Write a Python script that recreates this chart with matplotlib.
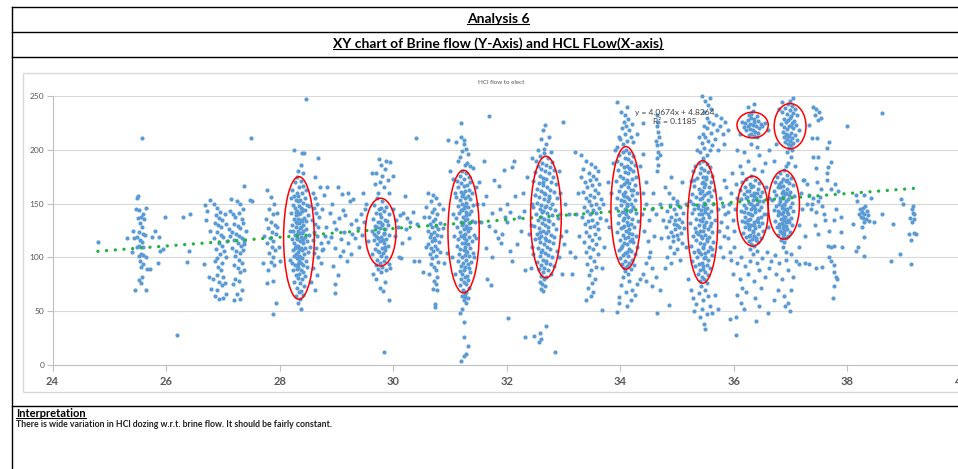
import matplotlib
matplotlib.use("Agg")
import matplotlib.pyplot as plt
from matplotlib.patches import Ellipse, Rectangle
from matplotlib.lines import Line2D

# ---- data (x, y pairs) ----
left_pts = [24.80,114, 25.50,157, 25.49,155, 25.47,145, 25.53,144, 25.65,146, 25.59,140, 25.56,138, 25.61,136,
            25.50,137, 25.54,132, 25.57,128, 25.52,124, 25.60,122, 25.63,121, 25.54,116, 25.57,114, 25.53,111,
            25.60,110, 25.49,110, 25.56,103, 25.52,101, 25.60,102, 25.65,100, 25.54,97, 25.59,94, 25.56,91,
            25.66,89, 25.71,89, 25.57,82, 25.53,79, 25.56,76, 25.46,70, 25.65,70, 25.43,118, 25.49,119, 25.40,105,
            25.31,118, 25.42,125, 25.75,119, 25.81,125, 25.88,119, 25.98,138, 25.85,95, 25.89,106, 25.95,108,
            26.30,138, 26.43,140, 26.37,96, 26.40,106, 26.19,28, 25.58,211]
c27_pts = [26.68,149, 26.72,143, 26.78,153, 26.85,150, 26.90,146, 26.95,142, 26.88,139, 26.93,137, 26.99,135,
           27.03,140, 26.86,132, 26.92,130, 26.97,128, 27.05,131, 26.90,124, 26.96,121, 27.00,119, 26.84,118,
           27.08,115, 26.93,113, 26.98,111, 26.88,108, 27.02,106, 26.95,103, 26.90,99, 26.86,97, 26.99,95,
           27.06,100, 26.92,91, 26.96,88, 26.89,84, 27.00,82, 26.83,80, 26.94,77, 26.98,74, 27.04,76, 26.90,70,
           26.87,64, 26.93,61, 27.00,62, 27.06,66, 26.80,71, 26.75,82, 26.67,94, 26.70,135, 26.77,125, 27.10,126,
           27.12,143,
           27.18,140, 27.22,138, 27.28,141, 27.33,136, 27.20,131, 27.26,129, 27.31,127, 27.36,132, 27.17,124,
           27.23,122, 27.29,120, 27.34,118, 27.20,116, 27.27,113, 27.32,111, 27.38,115, 27.16,109, 27.24,106,
           27.30,104, 27.35,107, 27.21,101, 27.28,98, 27.33,95, 27.19,93, 27.26,90, 27.31,86, 27.37,88, 27.22,80,
           27.29,78, 27.18,75, 27.34,70, 27.25,66, 27.30,61, 27.20,60, 27.36,145, 27.30,150, 27.25,152, 27.37,166,
           27.15,154, 27.12,120, 27.40,125, 27.48,153, 27.52,152, 27.49,211, 27.38,112]
c28_pts = [27.78,163, 27.85,156, 27.90,150, 27.82,145, 27.88,140, 27.76,136, 27.84,133, 27.91,130, 27.80,127,
           27.87,124, 27.93,122, 27.83,118, 27.89,115, 27.78,113, 27.86,110, 27.92,107, 27.81,104, 27.88,100,
           27.84,96, 27.90,93, 27.73,120, 27.80,88, 27.77,76, 27.88,78, 27.94,58, 27.88,47, 27.96,128, 27.99,110,
           28.00,97, 27.70,95, 27.95,141,
           28.31,175, 28.38,171, 28.27,170, 28.42,166, 28.35,165, 28.22,163, 28.46,163, 28.30,160, 28.39,160,
           28.33,157, 28.25,157, 28.44,155, 28.36,153, 28.29,153, 28.41,151, 28.48,149, 28.23,149, 28.34,148,
           28.38,146, 28.27,146, 28.45,144, 28.31,143, 28.40,143, 28.20,141, 28.36,141, 28.50,139, 28.28,139,
           28.43,137, 28.33,136, 28.25,136, 28.39,134, 28.47,134, 28.30,132, 28.35,132, 28.22,130, 28.42,130,
           28.37,128, 28.29,128, 28.46,126, 28.32,125, 28.24,125, 28.40,123, 28.34,123, 28.51,121, 28.27,121,
           28.38,119, 28.44,119, 28.21,117, 28.31,117, 28.36,115, 28.48,115, 28.26,113, 28.41,113, 28.33,111,
           28.29,111, 28.45,109, 28.37,109, 28.23,107, 28.39,107, 28.32,105, 28.50,105, 28.28,103, 28.43,103,
           28.35,101, 28.25,101, 28.40,99, 28.30,99, 28.46,97, 28.34,97, 28.22,95, 28.38,95, 28.42,93, 28.27,93,
           28.33,91, 28.48,91, 28.31,89, 28.37,88, 28.24,88, 28.41,86, 28.35,85, 28.29,84, 28.44,83, 28.32,81,
           28.39,80, 28.26,77, 28.36,76, 28.43,73, 28.30,72, 28.38,69, 28.34,68, 28.41,65, 28.28,64, 28.36,61,
           28.33,58, 28.38,52,
           28.26,200, 28.40,197, 28.43,197, 28.38,186, 28.46,247, 28.33,180, 28.41,178, 28.20,155, 28.52,148,
           28.18,125, 28.53,110, 28.19,98, 28.28,133, 28.36,127, 28.34,140, 28.31,122, 28.39,116, 28.35,108,
           28.30,118, 28.37,135, 28.33,94, 28.42,125, 28.27,109, 28.39,145, 28.32,152, 28.36,100, 28.29,142,
           28.41,117,
           28.58,160, 28.62,155, 28.66,150, 28.60,146, 28.64,141, 28.70,138, 28.57,135, 28.63,131, 28.68,128,
           28.61,124, 28.66,120, 28.59,116, 28.72,113, 28.64,109, 28.60,104, 28.68,100, 28.75,145, 28.71,165,
           28.78,158, 28.62,175, 28.67,192, 28.58,90, 28.65,84, 28.73,95, 28.56,77, 28.63,70, 28.76,108, 28.80,120]
c29_pts = [28.84,165, 29.03,165, 29.10,159, 29.21,160, 29.24,152, 29.30,154, 28.92,150, 29.11,144, 29.05,137,
           28.88,141, 29.16,139, 28.96,133, 29.26,131, 29.35,135, 29.43,140, 28.82,128, 29.00,126, 29.14,124,
           29.28,122, 29.38,127, 29.48,133, 28.90,119, 29.08,117, 29.20,113, 29.33,118, 29.45,121, 28.86,114,
           28.98,109, 29.12,106, 29.25,103, 29.40,110, 29.52,150, 28.74,107, 28.97,75, 28.98,67, 29.06,101,
           29.18,97, 29.55,115, 29.50,145, 29.46,160, 29.02,84, 28.94,92]
c30_pts = [29.72,155, 29.80,152, 29.66,149, 29.88,147, 29.75,145, 29.84,143, 29.70,141, 29.92,140, 29.78,138,
           29.64,136, 29.86,135, 29.73,133, 29.81,131, 29.90,130, 29.68,129, 29.77,127, 29.85,126, 29.62,125,
           29.74,124, 29.83,122, 29.93,121, 29.70,120, 29.79,119, 29.87,117, 29.66,116, 29.76,115, 29.84,113,
           29.72,112, 29.90,111, 29.80,109, 29.68,108, 29.86,107, 29.75,105, 29.82,104, 29.63,103, 29.78,101,
           29.88,100, 29.71,98, 29.84,97, 29.76,95, 29.92,94, 29.69,93, 29.81,91, 29.74,89, 29.87,88, 29.79,86,
           29.83,123, 29.77,133, 29.73,118, 29.89,134, 29.79,146, 29.71,128, 29.85,110, 29.76,140, 29.82,116,
           29.67,122, 29.80,130, 29.74,106,
           29.73,160, 29.83,165, 29.76,170, 29.90,172, 29.80,176, 29.70,178, 29.86,182, 29.78,186, 29.95,189,
           29.75,191, 29.88,190, 29.99,176, 29.62,178, 29.68,168, 29.92,160,
           29.70,80, 29.85,77, 29.76,72, 29.82,69, 29.93,60, 29.84,12, 29.65,85, 29.95,90,
           30.05,135, 30.12,139, 30.18,141, 30.25,137, 30.30,133, 30.08,128, 30.20,157, 30.40,211, 30.13,99,
           30.37,97, 30.45,97, 30.52,86, 30.03,120, 30.22,126, 30.15,113, 30.35,142, 30.28,118, 30.42,131,
           30.00,145, 30.10,100]
c31_pts = [30.62,160, 30.70,158, 30.76,155, 30.66,152, 30.80,150, 30.58,147, 30.72,145, 30.68,142, 30.78,140,
           30.63,138, 30.74,136, 30.70,134, 30.82,132, 30.65,131, 30.75,129, 30.69,128, 30.79,126, 30.61,125,
           30.72,124, 30.67,122, 30.77,121, 30.84,120, 30.64,119, 30.71,118, 30.74,116, 30.68,115, 30.80,114,
           30.62,112, 30.73,111, 30.66,109, 30.77,108, 30.70,106, 30.83,105, 30.64,103, 30.75,101, 30.69,99,
           30.79,96, 30.66,94, 30.72,91, 30.76,88, 30.63,85, 30.78,82, 30.71,78, 30.75,75, 30.70,71, 30.77,70,
           30.73,57, 30.74,54, 30.55,138, 30.87,127, 30.88,145, 30.58,110, 30.90,95, 30.95,104,
           31.22,180, 31.28,178, 31.17,176, 31.33,175, 31.25,173, 31.12,171, 31.36,170, 31.20,169, 31.30,167,
           31.24,166, 31.15,165, 31.34,163, 31.27,162, 31.19,161, 31.38,160, 31.23,159, 31.31,157, 31.10,156,
           31.26,155, 31.35,154, 31.18,153, 31.29,151, 31.22,150, 31.40,149, 31.14,148, 31.32,147, 31.25,146,
           31.20,144, 31.37,143, 31.28,142, 31.16,141, 31.33,140, 31.23,138, 31.11,137, 31.30,136, 31.26,135,
           31.39,134, 31.19,133, 31.34,132, 31.21,130, 31.28,129, 31.13,128, 31.36,127, 31.24,126, 31.31,125,
           31.17,124, 31.27,122, 31.42,121, 31.20,120, 31.33,119, 31.25,118, 31.15,117, 31.29,116, 31.38,115,
           31.22,113, 31.32,112, 31.12,111, 31.27,110, 31.35,109, 31.18,108, 31.24,107, 31.30,105, 31.41,104,
           31.16,103, 31.26,102, 31.34,101, 31.21,100, 31.29,98, 31.14,97, 31.37,96, 31.23,95, 31.31,94,
           31.19,92, 31.27,91, 31.33,90, 31.25,88, 31.17,87, 31.35,86, 31.22,85, 31.30,83, 31.26,82, 31.20,80,
           31.32,79, 31.24,77, 31.28,75, 31.18,74, 31.34,72, 31.23,70, 31.29,68, 31.26,66, 31.21,64, 31.31,62,
           31.25,60, 31.28,58, 31.22,52, 31.18,48, 31.24,40, 31.25,26, 31.32,18, 31.28,10, 31.25,8, 31.20,4,
           31.26,63,
           31.20,225, 31.20,212, 31.25,209, 31.10,207, 30.97,209, 31.28,201, 31.00,180, 31.18,193, 31.24,205,
           31.22,199, 31.30,188, 31.35,185, 31.40,183, 31.27,186, 31.15,190, 31.32,196, 31.05,173, 31.08,160,
           31.45,165, 31.47,150, 31.44,133, 31.46,118, 31.43,100, 31.05,140, 31.07,120, 31.04,100, 31.08,85,
           31.28,139, 31.24,121, 31.27,148, 31.21,157, 31.29,106, 31.23,132, 31.26,113, 31.22,144, 31.30,127]
c32_pts = [31.54,133, 31.63,157, 31.68,231, 31.68,129, 31.74,141, 31.77,172, 31.86,166, 31.95,181, 32.09,184,
           32.12,190, 32.15,157, 31.97,138, 32.05,142, 32.01,133, 31.92,122, 32.21,138, 32.30,143, 31.63,109,
           31.90,113, 32.06,106, 31.74,100, 32.09,97, 31.72,74, 32.03,44, 31.58,150, 31.80,125, 31.84,118,
           32.25,125, 32.35,175, 32.28,160, 31.60,190, 31.52,170, 32.18,112, 32.40,122, 31.88,145, 32.00,150,
           31.66,80, 32.33,88,
           32.33,26, 32.48,27, 32.60,24, 32.56,21, 32.70,36, 32.85,12, 32.58,30,
           32.65,197, 32.58,194, 32.72,192, 32.52,190, 32.80,189, 32.62,188, 32.69,186, 32.55,185, 32.77,184,
           32.61,182, 32.84,181, 32.67,180, 32.50,179, 32.74,178, 32.58,176, 32.81,175, 32.64,174, 32.70,173,
           32.47,171, 32.78,170, 32.56,169, 32.86,168, 32.63,167, 32.71,165, 32.53,164, 32.76,163, 32.60,162,
           32.83,161, 32.67,159, 32.49,158, 32.74,157, 32.57,156, 32.88,155, 32.65,154, 32.72,152, 32.54,151,
           32.80,150, 32.61,149, 32.69,148, 32.46,147, 32.77,146, 32.58,145, 32.85,144, 32.64,143, 32.71,141,
           32.52,140, 32.79,139, 32.60,138, 32.90,137, 32.66,136, 32.55,135, 32.75,134, 32.62,132, 32.82,131,
           32.68,130, 32.48,129, 32.73,128, 32.57,127, 32.87,126, 32.64,125, 32.70,123, 32.53,122, 32.78,121,
           32.61,120, 32.84,119, 32.67,118, 32.50,117, 32.74,115, 32.59,114, 32.81,113, 32.65,112, 32.71,110,
           32.55,109, 32.77,108, 32.62,107, 32.88,106, 32.68,104, 32.47,103, 32.73,102, 32.58,101, 32.80,100,
           32.64,98, 32.70,97, 32.54,96, 32.76,94, 32.61,93, 32.83,92, 32.66,90, 32.57,89, 32.72,88, 32.63,86,
           32.78,85, 32.60,83, 32.69,82, 32.65,80, 32.58,77, 32.62,75, 32.67,73, 32.60,71, 32.64,69,
           32.68,223, 32.63,218, 32.60,210, 32.75,212, 32.70,205, 32.66,201, 32.55,200, 32.78,198, 32.45,192,
           32.92,180, 32.94,160, 32.93,140, 32.95,120, 32.92,100, 32.44,150, 32.43,130, 32.45,110, 32.42,90,
           33.00,112, 33.02,150, 32.98,85, 32.99,226,
           32.66,160, 32.62,142, 32.72,135, 32.59,124, 32.70,116, 32.67,147, 32.64,170, 32.73,125, 32.56,118,
           32.69,95, 32.75,155, 32.61,105]
c33_pts = [33.40,190, 33.48,187, 33.55,184, 33.35,182, 33.60,180, 33.44,178, 33.52,176, 33.30,175, 33.58,173,
           33.46,172, 33.38,170, 33.63,168, 33.50,167, 33.42,165, 33.56,163, 33.34,161, 33.61,160, 33.47,158,
           33.53,156, 33.39,155, 33.66,154, 33.44,152, 33.58,150, 33.49,149, 33.36,147, 33.62,146, 33.52,144,
           33.41,143, 33.57,141, 33.46,140, 33.32,138, 33.64,137, 33.50,135, 33.43,134, 33.59,132, 33.38,131,
           33.54,129, 33.47,128, 33.60,126, 33.40,124, 33.55,122, 33.45,120, 33.62,118, 33.50,116, 33.36,114,
           33.57,112, 33.44,110, 33.52,108, 33.40,105, 33.60,103, 33.47,100, 33.54,97, 33.42,94, 33.58,91,
           33.49,88, 33.45,84, 33.55,80, 33.50,76, 33.43,72, 33.52,68, 33.48,64, 33.40,60, 33.70,150, 33.75,135,
           33.25,160, 33.22,140, 33.28,120, 33.72,110, 33.68,90, 33.78,170, 33.20,100, 33.15,85, 33.10,140,
           33.05,125, 33.12,105, 33.80,128, 33.83,160, 33.88,188, 33.90,200, 33.30,195, 33.20,198, 33.67,51]
c34_pts = [34.10,200, 34.04,198, 34.16,197, 33.98,195, 34.22,194, 34.08,192, 34.13,191, 33.94,190, 34.19,189,
           34.02,187, 34.26,186, 34.11,185, 34.06,184, 34.17,182, 33.96,181, 34.23,180, 34.09,179, 34.14,178,
           34.00,176, 34.28,175, 34.05,174, 34.20,173, 34.12,172, 33.92,171, 34.16,169, 34.07,168, 34.25,167,
           34.02,166, 34.13,165, 34.18,163, 33.97,162, 34.09,161, 34.30,160, 34.04,159, 34.21,158, 34.11,156,
           33.95,155, 34.15,154, 34.26,153, 34.06,152, 34.19,150, 34.01,149, 34.12,148, 34.23,147, 33.93,146,
           34.08,145, 34.17,143, 34.03,142, 34.28,141, 34.10,140, 33.98,139, 34.14,138, 34.21,136, 34.05,135,
           34.32,134, 34.12,133, 33.96,132, 34.18,131, 34.07,129, 34.24,128, 34.01,127, 34.15,126, 34.10,125,
           33.94,124, 34.20,122, 34.04,121, 34.27,120, 34.13,119, 34.08,118, 33.99,116, 34.17,115, 34.22,114,
           34.06,113, 34.11,112, 34.29,110, 34.02,109, 34.15,108, 33.97,107, 34.19,106, 34.09,104, 34.25,103,
           34.05,102, 34.13,101, 34.00,99, 34.21,98, 34.08,97, 34.16,95, 34.03,94, 34.24,93, 34.11,92, 34.06,90,
           34.18,89, 34.09,87, 34.14,85,
           34.12,150, 34.07,137, 34.16,123, 34.03,111, 34.19,144, 34.10,170, 34.14,130, 34.06,157, 34.20,117,
           34.11,105, 34.05,128, 34.23,163, 34.09,142, 34.15,183, 34.01,153,
           34.05,205, 34.12,208, 34.00,210, 34.18,212, 34.08,215, 34.15,218, 34.03,220, 34.10,222, 34.20,224,
           34.06,226, 34.14,229, 34.09,232, 34.02,235, 33.98,212, 34.22,207, 33.95,203, 33.95,244, 34.11,240,
           34.05,82, 34.15,78, 34.02,74, 34.20,70, 34.10,68, 33.98,63, 34.18,60, 33.97,58, 34.12,55, 33.94,49,
           34.25,65, 34.30,75, 34.35,80, 34.40,85, 34.45,78, 34.55,73, 34.62,82, 34.70,70, 34.85,56]
c35_pts = [34.85,160, 34.92,155, 35.00,152, 34.88,149, 35.05,147, 34.95,145, 34.82,143, 35.10,141, 34.98,140,
           34.90,138, 35.03,136, 34.86,134, 35.08,133, 34.94,131, 35.00,130, 34.80,128, 35.12,127, 34.96,126,
           34.89,124, 35.06,123, 34.99,121, 34.84,119, 35.02,117, 34.93,115, 35.09,113, 34.87,110, 35.00,108,
           34.95,104, 34.82,100, 35.05,98, 34.90,95, 34.78,90, 35.00,150, 34.97,135, 35.04,128, 34.92,120,
           34.75,135, 34.70,150, 34.72,118, 35.15,150, 35.15,110, 34.78,165, 35.08,170, 34.90,175,
           34.65,180, 34.66,186, 34.64,192, 34.67,198, 34.65,204, 34.63,208, 34.68,212, 34.66,217, 34.64,222,
           34.67,226, 34.65,232, 34.70,195, 34.72,205,
           34.40,160, 34.45,150, 34.38,140, 34.50,135, 34.55,145, 34.42,125, 34.48,115, 34.60,120, 34.52,105,
           34.58,160, 34.45,170, 34.62,140, 34.35,185, 34.40,196, 34.50,100, 34.55,90, 34.45,95, 34.65,48,
           34.40,225, 34.30,215]
c355_pts = [35.45,190, 35.38,188, 35.52,187, 35.32,185, 35.58,184, 35.42,183, 35.48,181, 35.28,180, 35.55,179,
            35.40,178, 35.62,176, 35.46,175, 35.35,174, 35.51,173, 35.25,171, 35.60,170, 35.43,169, 35.49,168,
            35.30,166, 35.56,165, 35.38,164, 35.65,163, 35.44,162, 35.52,160, 35.27,159, 35.47,158, 35.59,157,
            35.34,156, 35.41,154, 35.55,153, 35.22,152, 35.48,151, 35.63,150, 35.37,149, 35.45,148, 35.53,146,
            35.30,145, 35.42,144, 35.60,143, 35.50,142, 35.26,141, 35.39,140, 35.57,138, 35.46,137, 35.33,136,
            35.66,135, 35.43,134, 35.51,133, 35.23,132, 35.38,130, 35.58,129, 35.47,128, 35.31,127, 35.54,126,
            35.41,125, 35.62,124, 35.36,122, 35.49,121, 35.28,120, 35.56,119, 35.44,118, 35.52,117, 35.34,116,
            35.64,114, 35.40,113, 35.48,112, 35.25,111, 35.58,110, 35.45,109, 35.37,107, 35.54,106, 35.30,105,
            35.50,104, 35.42,103, 35.61,102, 35.35,100, 35.47,99, 35.55,98, 35.27,97, 35.44,95, 35.39,94,
            35.52,93, 35.32,92, 35.58,90, 35.46,89, 35.41,88, 35.50,86, 35.36,85, 35.54,84, 35.44,82, 35.48,80,
            35.40,78, 35.52,76,
            35.46,170, 35.40,160, 35.50,150, 35.44,140, 35.48,130, 35.42,120, 35.46,110, 35.50,100, 35.43,155,
            35.49,145, 35.45,125, 35.41,135, 35.53,115, 35.47,165, 35.39,105, 35.51,175, 35.45,92, 35.36,146,
            35.57,161, 35.33,124, 35.60,132, 35.28,150, 35.62,108, 35.30,172, 35.55,140,
            35.45,192, 35.52,195, 35.40,198, 35.58,200, 35.48,202, 35.62,204, 35.43,206, 35.55,208, 35.66,210,
            35.50,212, 35.46,215, 35.60,216, 35.70,218, 35.53,220, 35.48,222, 35.64,224, 35.57,226, 35.75,222,
            35.80,215, 35.85,226, 35.78,230, 35.68,232, 35.52,230, 35.47,235, 35.60,238, 35.55,242, 35.50,245,
            35.44,250, 35.58,248, 35.90,218, 35.72,200, 35.82,205, 35.38,212, 35.35,200,
            35.42,73, 35.50,70, 35.38,67, 35.55,64, 35.46,60, 35.34,57, 35.58,55, 35.44,52, 35.30,50, 35.52,47,
            35.40,45, 35.62,48, 35.48,38, 35.50,33, 35.28,62, 35.66,65, 35.72,52, 35.25,70, 35.20,80]
c36_pts = [35.75,155, 35.80,148, 35.85,140, 35.78,133, 35.92,150, 35.88,128, 35.95,160, 35.72,145, 35.83,120,
           35.98,135, 36.02,145, 35.90,118, 35.76,110, 36.00,125, 35.87,165, 35.82,172, 35.96,178, 36.04,168,
           35.93,105, 35.80,100, 36.05,155, 35.74,125, 35.89,142, 36.00,110,
           35.95,98, 36.05,95, 36.12,100, 36.20,92, 36.28,97, 36.40,95, 36.50,99, 36.58,105, 36.65,97, 36.72,102,
           36.80,95, 36.92,98, 37.00,103, 37.10,97, 35.98,85, 36.10,80, 36.15,72, 36.25,85, 36.35,78, 36.45,88,
           36.55,82, 36.62,90, 36.75,85, 36.85,80, 36.95,88, 37.05,82, 36.05,65, 36.12,58, 36.22,68, 36.38,62,
           36.48,72, 36.70,60, 36.78,70, 36.88,64, 36.96,58, 37.00,70, 35.93,43, 36.04,45, 36.04,28, 36.39,41,
           36.18,52, 36.90,55, 36.98,50, 36.45,55, 36.60,48,
           36.10,185, 36.25,190, 36.35,182, 36.45,195, 36.18,198, 36.55,188, 36.30,205, 36.05,200, 36.40,203,
           36.62,200, 36.70,190, 36.75,205, 36.15,178, 36.50,180, 36.58,140, 36.62,155, 36.60,128, 36.56,165,
           36.30,176, 36.22,173, 36.38,172, 36.15,170, 36.45,169, 36.28,168, 36.34,166, 36.20,165, 36.42,164,
           36.10,163, 36.26,162, 36.50,161, 36.36,160, 36.18,159, 36.31,158, 36.46,157, 36.23,156, 36.39,155,
           36.13,154, 36.33,153, 36.52,152, 36.27,151, 36.41,150, 36.17,149, 36.35,148, 36.48,147, 36.21,146,
           36.30,145, 36.44,144, 36.12,143, 36.37,142, 36.25,141, 36.53,140, 36.32,139, 36.19,138, 36.43,137,
           36.28,136, 36.40,135, 36.14,134, 36.35,133, 36.49,132, 36.24,131, 36.31,130, 36.45,129, 36.20,128,
           36.38,127, 36.27,126, 36.51,125, 36.33,124, 36.16,123, 36.42,122, 36.29,121, 36.36,120, 36.22,119,
           36.47,118, 36.32,117, 36.39,116, 36.26,115, 36.43,114, 36.30,112, 36.35,111, 36.28,108, 36.40,106,
           36.33,103,
           36.30,150, 36.25,135, 36.38,145, 36.34,125, 36.22,155, 36.41,160, 36.29,140, 36.36,130, 36.44,152,
           36.18,142, 36.31,165, 36.27,120, 36.47,138, 36.23,162, 36.39,118, 36.33,147, 36.26,128, 36.42,133,
           36.35,157, 36.20,133,
           36.20,225, 36.25,228, 36.30,230, 36.36,229, 36.42,227, 36.47,224, 36.18,221, 36.24,222, 36.29,224,
           36.34,223, 36.39,222, 36.45,220, 36.50,222, 36.22,218, 36.28,219, 36.33,218, 36.38,217, 36.43,216,
           36.26,214, 36.31,215, 36.36,213, 36.41,212, 36.30,233, 36.35,226, 36.27,232, 36.33,236, 36.40,231,
           36.15,226, 36.55,225, 36.24,240, 36.36,243, 36.10,215, 36.60,218]
c37_pts = [36.88,181, 36.82,178, 36.94,177, 36.76,175, 37.00,174, 36.86,173, 36.91,171, 36.72,170, 36.97,169,
           36.80,168, 37.04,167, 36.87,166, 36.78,165, 36.93,164, 36.70,162, 36.99,161, 36.84,160, 36.90,159,
           36.75,158, 37.06,157, 36.86,156, 36.81,155, 36.96,154, 36.68,153, 36.92,152, 37.02,151, 36.79,150,
           36.88,149, 36.74,148, 36.98,147, 36.84,146, 36.93,145, 36.71,144, 37.05,143, 36.86,142, 36.80,141,
           36.95,140, 36.77,139, 36.90,138, 37.01,137, 36.83,136, 36.89,135, 36.73,134, 36.97,133, 36.85,132,
           36.79,131, 37.03,130, 36.91,129, 36.76,128, 36.87,127, 36.94,126, 36.81,125, 36.99,124, 36.84,123,
           36.89,122, 36.78,121, 36.95,120, 36.86,119, 36.91,118, 36.83,116, 36.88,114, 36.86,110, 36.92,105,
           36.88,150, 36.84,140, 36.92,160, 36.86,130, 36.90,145, 36.82,165, 36.95,135, 36.87,155, 36.80,128,
           36.93,172, 36.85,148, 36.89,125, 36.78,143, 36.97,158, 36.83,170, 36.91,133, 36.86,162, 36.94,142,
           36.81,152, 36.88,138,
           36.95,243, 37.02,241, 36.90,239, 37.08,238, 36.98,237, 36.85,235, 37.05,234, 36.93,233, 37.12,232,
           37.00,231, 36.88,229, 36.96,228, 37.06,227, 36.91,226, 37.02,225, 36.83,224, 37.10,223, 36.97,222,
           36.89,221, 37.04,220, 36.94,219, 37.14,218, 36.86,217, 37.00,216, 36.92,215, 37.08,214, 36.97,213,
           36.88,212, 37.03,211, 36.93,210, 37.11,209, 36.99,208, 36.90,207, 37.05,206, 36.95,205, 37.01,204,
           36.97,202, 37.03,200, 36.93,198, 37.00,193, 36.96,188, 37.07,185, 36.92,185, 36.98,230, 37.01,222,
           36.94,214, 36.99,245, 37.05,248, 36.85,244, 36.80,238,
           37.15,130, 37.20,145, 37.18,160, 37.25,120, 37.22,172, 37.28,150, 37.15,110, 37.25,95]
right_pts = [37.39,240, 37.45,238, 37.50,235, 37.43,232, 37.53,230, 37.48,228, 37.33,223, 37.37,211, 37.47,211,
             37.68,207, 37.64,202, 37.99,222, 38.60,234, 37.40,193, 37.48,193, 37.71,189, 37.44,183, 37.66,184,
             37.64,178, 37.24,172, 37.29,168, 37.64,172, 37.46,170, 37.78,168, 37.53,164, 37.71,164, 37.83,162,
             37.32,158, 37.40,155, 37.48,152, 37.55,148, 37.35,145, 37.45,142, 37.58,140, 37.38,150, 37.52,156,
             37.80,145, 37.89,138, 37.48,122, 37.68,125, 37.88,124, 37.76,135, 37.65,111, 37.71,110, 37.76,111,
             37.90,110, 37.68,100, 37.71,97, 37.15,94, 37.33,94, 37.45,90, 37.56,91, 37.76,93, 37.77,86,
             37.80,82, 37.82,80, 37.76,73, 37.74,62, 37.42,130, 37.60,135,
             38.15,158, 38.17,152, 38.30,158, 38.41,155, 38.10,131, 38.25,128, 38.30,119, 38.18,110, 38.15,106,
             38.29,101, 38.47,133, 38.60,140, 38.80,131, 38.77,97, 38.93,103, 38.94,154, 38.97,150,
             38.22,145, 38.26,142, 38.30,140, 38.34,143, 38.28,137, 38.24,138, 38.32,136, 38.36,139, 38.27,146,
             38.31,148, 38.20,140, 38.38,134, 38.29,133,
             39.15,148, 39.13,145, 39.15,141, 39.10,137, 39.17,136, 39.09,122, 39.17,123, 39.20,122, 39.12,116,
             39.12,94, 39.18,140, 39.14,133]

clusters = [left_pts, c27_pts, c28_pts, c29_pts, c30_pts, c31_pts, c32_pts, c33_pts,
            c34_pts, c35_pts, c355_pts, c36_pts, c37_pts, right_pts]

# trendline as printed on the chart
slope, intercept = 4.0674, 4.8264
trend_x = [24.8, 39.3]

# red ellipses drawn by the author
ell_cx = [28.34, 29.78, 31.24, 32.69, 34.10, 35.45, 36.33, 36.88, 36.33, 36.99]
ell_cy = [118, 123.5, 124, 137.5, 146, 133, 143, 149, 223, 222]
ell_w = [0.54, 0.54, 0.55, 0.54, 0.53, 0.53, 0.55, 0.55, 0.55, 0.56]
ell_h = [114, 63, 114, 113, 114, 114, 65, 64, 24, 42]

x_ticks = [24, 26, 28, 30, 32, 34, 36, 38, 40]
y_ticks = [0, 50, 100, 150, 200, 250]

# ---- figure ----
plt.rcParams["font.family"] = ["Lato", "DejaVu Sans"]
W, H = 958, 469
fig = plt.figure(figsize=(W / 100, H / 100), dpi=100)


def fx(px):
    return px / W


def fy(py):
    return 1 - py / H


def hline(py, x0=11.5, x1=W, color="black", lw=1.0):
    fig.add_artist(Line2D([fx(x0), fx(x1)], [fy(py), fy(py)], color=color, lw=lw))


# table frame
hline(7)
hline(32.5)
hline(57.5)
hline(405.5)
fig.add_artist(Line2D([fx(11.5), fx(11.5)], [fy(7), 0], color="black", lw=1.0))
fig.add_artist(Rectangle((fx(23), fy(392)), fx(990) - fx(23), fy(73) - fy(392),
                         fill=False, ec="#D9D9D9", lw=1.0))

ax = fig.add_axes([fx(52.5), fy(365), fx(961) - fx(52.5), fy(96) - fy(365)])

xs, ys = [], []
for c in clusters:
    xs += c[0::2]
    ys += c[1::2]
ax.scatter(xs, ys, s=9, color="#5B9BD5", linewidths=0, zorder=3, clip_on=False)

ty = [slope * v + intercept for v in trend_x]
ax.plot(trend_x, ty, color="#1DB33C", lw=2.4, linestyle=(0, (0.01, 2.6)),
        dash_capstyle="round", zorder=4)

for cx, cy, w, h in zip(ell_cx, ell_cy, ell_w, ell_h):
    ax.add_patch(Ellipse((cx, cy), w, h, fill=False, ec="#FF0000", lw=1.1, zorder=5))

ax.text(34.96, 235, "y = 4.0674x + 4.8264", ha="center", va="center", fontsize=6,
        color="#404040", zorder=6)
ax.text(34.96, 226.5, "R² = 0.1185", ha="center", va="center", fontsize=6,
        color="#404040", zorder=6)

ax.set_xlim(24, 40)
ax.set_ylim(0, 250)
ax.set_xticks(x_ticks)
ax.set_yticks(y_ticks)
ax.set_xticklabels([str(t) for t in x_ticks], fontsize=8, fontweight="bold", color="#595959")
ax.set_yticklabels([str(t) for t in y_ticks], fontsize=6, color="#595959")
ax.tick_params(axis="both", direction="out", length=4, color="#BFBFBF", width=0.8)
ax.tick_params(axis="x", pad=4)
ax.tick_params(axis="y", pad=2)
for s in ["top", "right"]:
    ax.spines[s].set_visible(False)
for s in ["left", "bottom"]:
    ax.spines[s].set_color("#BFBFBF")
    ax.spines[s].set_linewidth(0.8)
ax.grid(axis="y", color="#D9D9D9", lw=0.8)
ax.set_axisbelow(True)

# titles and notes
t1 = fig.text(fx(498), fy(19), "Analysis 6", ha="center", va="center", fontsize=10, fontweight="bold")
t2 = fig.text(fx(498), fy(44), "XY chart of Brine flow (Y-Axis) and HCL FLow(X-axis)", ha="center",
              va="center", fontsize=10, fontweight="bold")
fig.text(fx(501), fy(82), "HCl flow to elect", ha="center", va="center", fontsize=4.5, color="#595959")
t3 = fig.text(fx(16), fy(413), "Interpretation", ha="left", va="center", fontsize=8, fontweight="bold")
fig.text(fx(16), fy(424), "There is wide variation in HCl dozing w.r.t. brine flow. It should be fairly constant.",
         ha="left", va="center", fontsize=6.3, fontweight="bold", color="#222222")

# underline the bold headings
fig.canvas.draw()
r = fig.canvas.get_renderer()
for t in [t1, t2, t3]:
    bb = t.get_window_extent(renderer=r)
    yb = bb.y0 + 1
    fig.add_artist(Line2D([bb.x0 / W, bb.x1 / W], [yb / H, yb / H], color="black", lw=0.8))

fig.savefig("out.png", dpi=100)
